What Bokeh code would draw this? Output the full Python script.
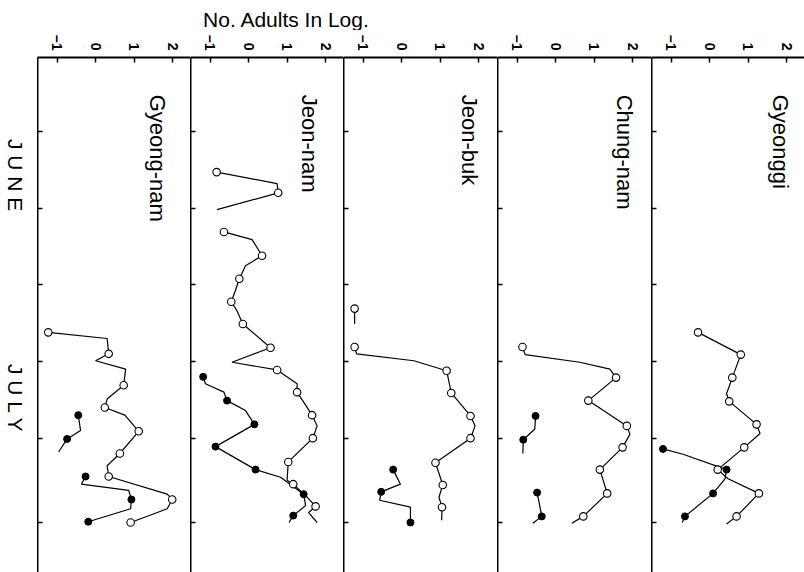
import math
import numpy as np
from bokeh.plotting import figure
from bokeh.layouts import row, column
from bokeh.models import Range1d
from bokeh.core.properties import value
from bokeh.embed import file_html
from bokeh.resources import INLINE

nan = float("nan")
FONT = "Liberation Sans"

# ---------------- data ----------------
regions = ["Gyeong-nam", "Jeon-nam", "Jeon-buk", "Chung-nam", "Gyeonggi"]
log_ticks = [-1, 0, 1, 2]
day_ticks = [10, 20, 30, 40, 50, 61]          # days counted from 1 June
month_labels = ["J U N E", "J U L Y"]
month_label_days = [15.7, 44.8]

# Gyeong-nam
gn_open_day = [36.2, 37.0, 39.0, 39.9, 41.0, 43.1, 44.9, 46.0, 47.0, 49.1, 52.0, 53.6, 55.0, 57.3, 58.0, 59.2, 61.0]
gn_open_val = [-1.24, 0.29, 0.33, -0.01, 0.77, 0.72, 0.29, 0.23, 0.75, 1.11, 0.62, 0.29, 0.33, 1.85, 1.98, 1.85, 0.90]
gn_open_mark = [0, 2, 5, 7, 9, 10, 12, 14, 16]
gn_fill_day = [47.0, 49.0, 50.1, 51.8, nan, 55.0, 56.0, 56.8, 58.0, 59.2, 60.9]
gn_fill_val = [-0.46, -0.40, -0.75, -0.97, nan, -0.27, -0.38, 0.85, 0.92, 0.90, -0.20]
gn_fill_mark = [0, 2, 5, 8, 10]

# Jeon-nam
jn_open_day = [15.3, 16.8, 18.0, 20.2, nan, 23.1, 24.1, 26.2, 27.5, 29.2, 30.7, 32.2, 33.4, 35.1, 38.2, 40.1,
               41.1, 42.9, 44.0, 47.0, 48.4, 50.0, 53.1, 55.5, 56.0, 57.7, 58.9, 59.7, 61.0]
jn_open_val = [-0.84, 0.73, 0.76, -0.83, nan, -0.65, 0.08, 0.34, -0.09, -0.25, -0.35, -0.46, -0.31, -0.16, 0.56, -0.44,
               0.73, 1.25, 1.25, 1.64, 1.77, 1.66, 1.02, 0.99, 1.15, 1.51, 1.73, 1.55, 1.77]
jn_open_mark = [0, 2, 5, 7, 9, 11, 13, 14, 16, 18, 19, 21, 22, 24, 26]
jn_fill_day = [42.0, 42.9, 44.0, 45.1, 46.4, 48.2, 51.1, 54.1, 55.1, 57.3, 58.8, 60.1, 61.0]
jn_fill_val = [-1.19, -1.13, -0.65, -0.57, -0.09, 0.14, -0.87, 0.17, 0.82, 1.42, 1.47, 1.15, 1.04]
jn_fill_mark = [0, 3, 5, 6, 7, 9, 11]

# Jeon-buk
jb_open_day = [33.1, 35.1, nan, 38.1, 39.0, 39.9, 41.2, 44.1, 47.1, 48.4, 50.0, 53.2, 56.1, 57.7, 59.0, 60.7]
jb_open_val = [-1.23, -1.23, nan, -1.23, -1.18, 0.31, 1.16, 1.28, 1.78, 1.90, 1.78, 0.87, 1.06, 0.96, 1.04, 1.03]
jb_open_mark = [0, 3, 6, 7, 8, 10, 11, 12, 14]
jb_fill_day = [54.1, 56.0, 57.0, 58.1, 59.0, 61.0]
jb_fill_val = [-0.23, -0.04, -0.54, -0.58, 0.22, 0.22]
jb_fill_mark = [0, 2, 5]

# Chung-nam
cn_open_day = [38.1, 39.1, 40.1, 41.0, 42.1, 45.1, 48.4, 49.5, 51.2, 54.1, 57.2, 60.2, 61.1]
cn_open_val = [-0.87, -0.80, 0.62, 1.40, 1.56, 0.84, 1.84, 1.92, 1.73, 1.14, 1.33, 0.71, 0.41]
cn_open_mark = [0, 4, 5, 6, 8, 9, 10, 11]
cn_fill_day = [47.1, 48.8, 50.2, 52.0, nan, 57.1, 58.6, 60.2, 61.1]
cn_fill_val = [-0.53, -0.55, -0.85, -0.86, nan, -0.49, -0.43, -0.37, -0.60]
cn_fill_mark = [0, 2, 5, 7]

# Gyeonggi
gg_open_day = [36.2, 39.1, 42.1, 44.2, 45.2, 48.2, 49.4, 51.2, 54.1, 55.3, 57.2, 60.2, 61.2]
gg_open_val = [-0.31, 0.80, 0.58, 0.43, 0.50, 1.21, 1.30, 0.89, 0.20, 0.47, 1.27, 0.69, 0.43]
gg_open_mark = [0, 1, 2, 4, 5, 7, 8, 10, 11]
gg_fill_day = [51.4, 52.1, 54.1, 55.3, 57.2, 60.2, 61.0]
gg_fill_val = [-1.22, -0.70, 0.43, 0.39, 0.08, -0.65, -0.72]
gg_fill_mark = [0, 2, 4, 5]

series = [
    (gn_open_day, gn_open_val, gn_open_mark, gn_fill_day, gn_fill_val, gn_fill_mark),
    (jn_open_day, jn_open_val, jn_open_mark, jn_fill_day, jn_fill_val, jn_fill_mark),
    (jb_open_day, jb_open_val, jb_open_mark, jb_fill_day, jb_fill_val, jb_fill_mark),
    (cn_open_day, cn_open_val, cn_open_mark, cn_fill_day, cn_fill_val, cn_fill_mark),
    (gg_open_day, gg_open_val, gg_open_mark, gg_fill_day, gg_fill_val, gg_fill_mark),
]

# ---------------- layout ----------------
PX_PER_UNIT = 38.5
X0 = -1.519
HEADER_H = 30
TOP = 27
PANEL_H = 542
MONTH_W = 37
panel_widths = [153, 153, 154, 154, 153]
title_x = [1.60, 1.57, 1.75, 1.79, 1.83]
TITLE_DAY = 5.2
y_range = Range1d(67.52, 0.35)


def clean(p):
    p.outline_line_color = None
    p.background_fill_color = "white"
    p.border_fill_color = "white"


def make_panel(name, w, data, tx):
    od, ov, om, fd, fv, fm = [np.array(a, dtype=float) if i % 3 != 2 else a for i, a in enumerate(data)]
    p = figure(width=w, height=PANEL_H, x_range=Range1d(X0, X0 + w / PX_PER_UNIT), y_range=y_range,
               x_axis_location="above", y_axis_location="left", title=None,
               output_backend="svg", toolbar_location=None,
               min_border_left=0, min_border_right=0, min_border_top=TOP, min_border_bottom=0)
    clean(p)
    p.grid.visible = False
    xa = p.xaxis[0]
    xa.ticker = log_ticks
    xa.major_label_orientation = -math.pi / 2
    xa.major_tick_in = 5
    xa.major_tick_out = 0
    xa.minor_tick_line_color = None
    xa.axis_line_width = 2
    xa.major_tick_line_width = 1.5
    xa.major_label_standoff = 7
    xa.major_label_text_font = FONT
    xa.major_label_text_font_size = "14px"
    xa.major_label_text_font_style = "bold"
    xa.major_label_text_color = "black"
    ya = p.yaxis[0]
    ya.ticker = day_ticks
    ya.major_tick_in = 5
    ya.major_tick_out = 0
    ya.minor_tick_line_color = None
    ya.axis_line_width = 2
    ya.major_tick_line_width = 1.5
    ya.major_label_standoff = 0
    ya.major_label_text_font_size = "0px"
    ya.major_label_overrides = {t: "" for t in day_ticks}

    p.line(fv, fd, line_color="black", line_width=1.2)
    p.line(ov, od, line_color="black", line_width=1.2)
    p.scatter(fv[fm], fd[fm], marker="circle", size=7, fill_color="black", line_color="black")
    p.scatter(ov[om], od[om], marker="circle", size=7.5, fill_color="white", line_color="black", line_width=1.1)

    p.text(x=[tx], y=[TITLE_DAY], text=[name], angle=-math.pi / 2, text_align="left", text_baseline="middle",
           text_font=value(FONT), text_font_size="22px", text_color="black")
    return p


panels = [make_panel(regions[i], panel_widths[i], series[i], title_x[i]) for i in range(5)]

month = figure(width=MONTH_W, height=PANEL_H, x_range=Range1d(0, MONTH_W), y_range=y_range, title=None,
               x_axis_location=None, y_axis_location=None, output_backend="svg", toolbar_location=None,
               min_border_left=0, min_border_right=0, min_border_top=TOP, min_border_bottom=0)
clean(month)
month.grid.visible = False
month.text(x=[15, 15], y=month_label_days, text=month_labels, angle=-math.pi / 2, text_align="center",
           text_baseline="middle", text_font=value(FONT), text_font_size="21px", text_color="black")

total_w = MONTH_W + sum(panel_widths)
header = figure(width=total_w, height=HEADER_H, x_range=Range1d(0, total_w), y_range=Range1d(0, HEADER_H),
                title=None, x_axis_location=None, y_axis_location=None, output_backend="svg",
                toolbar_location=None, min_border=0)
clean(header)
header.grid.visible = False
header.text(x=[286], y=[HEADER_H - 19], text=["No. Adults In Log."], text_align="center",
            text_baseline="middle", text_font=value(FONT), text_font_size="21px", text_color="black")

layout = column(header, row(month, *panels, spacing=0), spacing=0)
open("out.html", "w").write(file_html(layout, INLINE))
